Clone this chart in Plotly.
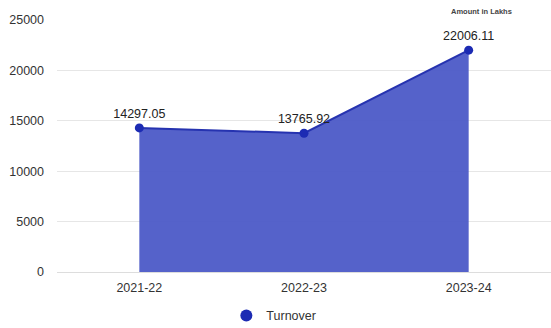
import plotly.graph_objects as go

years = ["2021-22", "2022-23", "2023-24"]
turnover = [14297.05, 13765.92, 22006.11]
y_ticks = [0, 5000, 10000, 15000, 20000, 25000]

FONT = "Liberation Sans, Arial, sans-serif"

fig = go.Figure()
fig.add_trace(go.Scatter(
    x=years,
    y=turnover,
    name="Turnover",
    mode="lines+markers+text",
    fill="tozeroy",
    fillcolor="rgba(72,86,198,0.93)",
    line=dict(color="#2633b0", width=2),
    marker=dict(color="#1c2bb3", size=9),
    text=[f"{v:.2f}" for v in turnover],
    textposition="top center",
    textfont=dict(family=FONT, size=12.5, color="#222222"),
    showlegend=False,
))

# legend entry: a plain dot
fig.add_trace(go.Scatter(
    x=[None], y=[None],
    name="Turnover",
    mode="markers",
    marker=dict(color="#1c2bb3", size=12),
    showlegend=True,
))

fig.add_annotation(
    text="<b>Amount in Lakhs</b>",
    xref="paper", yref="paper",
    x=0.86, y=1.0, yshift=9,
    xanchor="center", yanchor="middle",
    showarrow=False,
    font=dict(family=FONT, size=7.5, color="#444444"),
)

fig.update_layout(
    width=551, height=328,
    margin=dict(l=57, r=0, t=20, b=56),
    paper_bgcolor="white",
    plot_bgcolor="white",
    font=dict(family=FONT, size=12, color="#333333"),
    showlegend=True,
    legend=dict(
        orientation="h",
        xref="container", yref="container",
        x=0.497, y=0.037,
        xanchor="center", yanchor="middle",
        font=dict(size=12.5, color="#333333"),
        itemwidth=30,
    ),
    xaxis=dict(
        type="category",
        range=[-0.5, 2.5],
        showgrid=False,
        zeroline=False,
        showline=False,
        ticks="",
        ticklabelstandoff=6,
        tickfont=dict(size=12.5, color="#333333"),
    ),
    yaxis=dict(
        range=[0, 25000],
        tickvals=y_ticks,
        ticktext=[str(v) for v in y_ticks],
        showgrid=True,
        gridcolor="#e6e6e6",
        gridwidth=1,
        zeroline=True,
        zerolinecolor="#dddddd",
        zerolinewidth=1,
        showline=False,
        ticks="",
        ticklabelstandoff=12,
        tickfont=dict(size=12.5, color="#333333"),
    ),
)

fig.write_html("out.html")
